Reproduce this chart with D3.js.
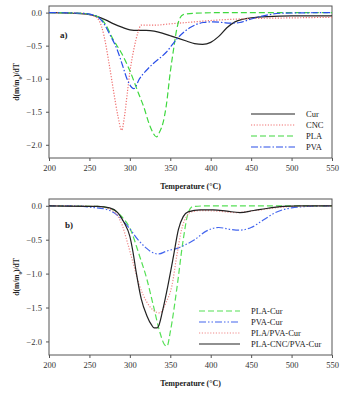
<!DOCTYPE html>
<html>
<head>
<meta charset="utf-8">
<script src="https://cdn.jsdelivr.net/npm/d3@7"></script>
<style>
body { margin:0; background:#fff; }
text { font-family: "Liberation Serif", "DejaVu Serif", serif; fill:#222; }
</style>
</head>
<body>
<div id="chart"></div>
<script>
// x ticks / y ticks shared by both panels
const xTicks = [200, 250, 300, 350, 400, 450, 500, 550];
const yTicks = [0.0, -0.5, -1.0, -1.5, -2.0];

// panel a) [temperature, d(m/m0)/dT]
const cur = [[200,0],[230,-0.01],[250,-0.03],[260,-0.06],[270,-0.11],[280,-0.17],[290,-0.22],[300,-0.26],[310,-0.27],[320,-0.27],[330,-0.28],[340,-0.31],[350,-0.35],[360,-0.39],[370,-0.43],[380,-0.47],[390,-0.48],[400,-0.45],[410,-0.36],[420,-0.23],[430,-0.14],[440,-0.1],[450,-0.08],[470,-0.06],[500,-0.05],[550,-0.05]];
const cnc = [[200,0],[240,-0.01],[255,-0.05],[262,-0.12],[268,-0.35],[274,-0.75],[280,-1.2],[285,-1.55],[290,-1.78],[293,-1.6],[297,-1.2],[300,-0.9],[305,-0.55],[310,-0.3],[314,-0.19],[330,-0.19],[350,-0.17],[380,-0.14],[400,-0.12],[450,-0.09],[500,-0.08],[550,-0.07]];
const pla = [[200,0],[240,-0.01],[260,-0.06],[270,-0.18],[279,-0.4],[290,-0.62],[300,-0.88],[310,-1.2],[317,-1.42],[325,-1.72],[333,-1.88],[337,-1.8],[341,-1.67],[345,-1.41],[350,-0.9],[354,-0.56],[358,-0.25],[362,-0.08],[366,-0.03],[380,-0.01],[420,0],[550,0]];
const pva = [[200,0],[240,-0.01],[258,-0.05],[267,-0.15],[276,-0.35],[284,-0.55],[291,-0.8],[297,-1.02],[305,-1.15],[312,-1.0],[320,-0.88],[329,-0.77],[345,-0.6],[358,-0.4],[374,-0.23],[391,-0.15],[403,-0.14],[415,-0.15],[424,-0.16],[436,-0.15],[449,-0.1],[465,-0.05],[486,-0.01],[550,0]];

// panel b)
const plaCur = [[200,0],[260,-0.01],[280,-0.06],[290,-0.16],[300,-0.33],[312,-0.74],[321,-1.08],[329,-1.47],[337,-1.86],[343,-2.05],[346,-2.07],[350,-1.86],[358,-1.23],[366,-0.5],[372,-0.11],[378,-0.01],[400,0],[550,0]];
const pvaCur = [[200,0],[230,0],[250,-0.02],[270,-0.05],[280,-0.1],[290,-0.2],[300,-0.34],[310,-0.5],[320,-0.62],[330,-0.7],[336,-0.71],[345,-0.67],[360,-0.62],[380,-0.5],[395,-0.37],[410,-0.32],[425,-0.35],[435,-0.36],[450,-0.32],[465,-0.21],[480,-0.1],[500,-0.03],[520,-0.01],[550,0]];
const plaPvaCur = [[200,0],[260,-0.01],[275,-0.05],[285,-0.15],[291,-0.3],[296,-0.5],[304,-0.84],[312,-1.18],[321,-1.42],[329,-1.54],[337,-1.58],[345,-1.42],[352,-1.18],[358,-0.74],[364,-0.35],[370,-0.16],[376,-0.09],[390,-0.07],[410,-0.08],[430,-0.1],[455,-0.07],[480,-0.03],[500,-0.01],[550,0]];
const plaCncPvaCur = [[200,0],[260,-0.01],[275,-0.03],[285,-0.1],[293,-0.25],[300,-0.45],[304,-0.69],[308,-0.99],[314,-1.37],[321,-1.62],[327,-1.76],[330,-1.8],[334,-1.8],[336,-1.76],[341,-1.52],[347,-1.18],[354,-0.74],[360,-0.35],[366,-0.16],[372,-0.09],[387,-0.06],[403,-0.06],[420,-0.08],[436,-0.1],[453,-0.07],[469,-0.04],[490,-0.01],[510,0],[550,0]];

const width = 350, height = 396;
const svg = d3.select('#chart').append('svg')
  .attr('width', width).attr('height', height);

const panels = [
  { tag: 'a)', top: 6, bottom: 158, tagX: 60, tagY: 38,
    legX: 251, legLen: 44, legY: 114,
    series: [
      { name: 'Cur', data: cur, color: '#222', dash: null },
      { name: 'CNC', data: cnc, color: '#f07070', dash: '1.2,1.6' },
      { name: 'PLA', data: pla, color: '#3fd83f', dash: '6,3' },
      { name: 'PVA', data: pva, color: '#2a4fe8', dash: '7,2,1.5,2' }
    ]},
  { tag: 'b)', top: 199, bottom: 355, tagX: 65, tagY: 228,
    legX: 199, legLen: 41, legY: 311,
    series: [
      { name: 'PLA-Cur', data: plaCur, color: '#55e055', dash: '6,3' },
      { name: 'PVA-Cur', data: pvaCur, color: '#4466ee', dash: '7,2,1.5,2,1.5,2' },
      { name: 'PLA/PVA-Cur', data: plaPvaCur, color: '#f08a8a', dash: '1.2,1.6' },
      { name: 'PLA-CNC/PVA-Cur', data: plaCncPvaCur, color: '#222', dash: null }
    ]}
];

const left = 49, right = 332;

panels.forEach(p => {
  const x = d3.scaleLinear().domain([200, 550]).range([left, right]);
  const y = d3.scaleLinear().domain([-2.2, 0.1]).range([p.bottom, p.top]);
  const g = svg.append('g');

  // frame
  g.append('rect')
    .attr('x', left).attr('y', p.top)
    .attr('width', right - left).attr('height', p.bottom - p.top)
    .style('fill', 'none').style('stroke', '#555').style('stroke-width', 1);

  const xAxis = d3.axisBottom(x).tickValues(xTicks).tickSize(3).tickPadding(4).tickFormat(d3.format('d'));
  const yAxis = d3.axisLeft(y).tickValues(yTicks).tickSize(3).tickPadding(4).tickFormat(d3.format('.1f'));

  const xg = g.append('g').attr('transform', 'translate(0,' + p.bottom + ')').call(xAxis);
  const yg = g.append('g').attr('transform', 'translate(' + left + ',0)').call(yAxis);
  [xg, yg].forEach(a => {
    a.select('.domain').remove();
    a.selectAll('line').style('stroke', '#555');
    a.selectAll('text').style('font-family', '"Liberation Serif", serif')
      .style('font-size', '8.5px').style('fill', '#333');
  });

  g.append('text')
    .attr('x', (left + right) / 2).attr('y', p.bottom + 31)
    .style('text-anchor', 'middle').style('font-weight', 'bold').style('font-size', '8px')
    .text('Temperature (°C)');

  const yl = g.append('text')
    .attr('transform', 'translate(19,' + ((p.top + p.bottom) / 2) + ') rotate(-90)')
    .style('text-anchor', 'middle').style('font-weight', 'bold').style('font-size', '7.5px');
  yl.append('tspan').text('d(m/m');
  yl.append('tspan').attr('baseline-shift', 'sub').style('font-size', '5px').text('0');
  yl.append('tspan').text(')/dT');

  g.append('text')
    .attr('x', p.tagX).attr('y', p.tagY)
    .style('font-weight', 'bold').style('font-size', '9px')
    .text(p.tag);

  const line = d3.line().x(d => x(d[0])).y(d => y(d[1])).curve(d3.curveMonotoneX);

  p.series.forEach((s, i) => {
    g.append('path')
      .datum(s.data)
      .attr('d', line)
      .style('fill', 'none')
      .style('stroke', s.color)
      .style('stroke-width', 1.2)
      .style('stroke-dasharray', s.dash);

    const ly = p.legY + i * 11;
    g.append('line')
      .attr('x1', p.legX).attr('x2', p.legX + p.legLen)
      .attr('y1', ly).attr('y2', ly)
      .style('stroke', s.color).style('stroke-width', 1.2)
      .style('stroke-dasharray', s.dash);
    g.append('text')
      .attr('x', p.legX + p.legLen + 11).attr('y', ly + 3)
      .style('font-size', '8.5px')
      .text(s.name);
  });
});
</script>
</body>
</html>
